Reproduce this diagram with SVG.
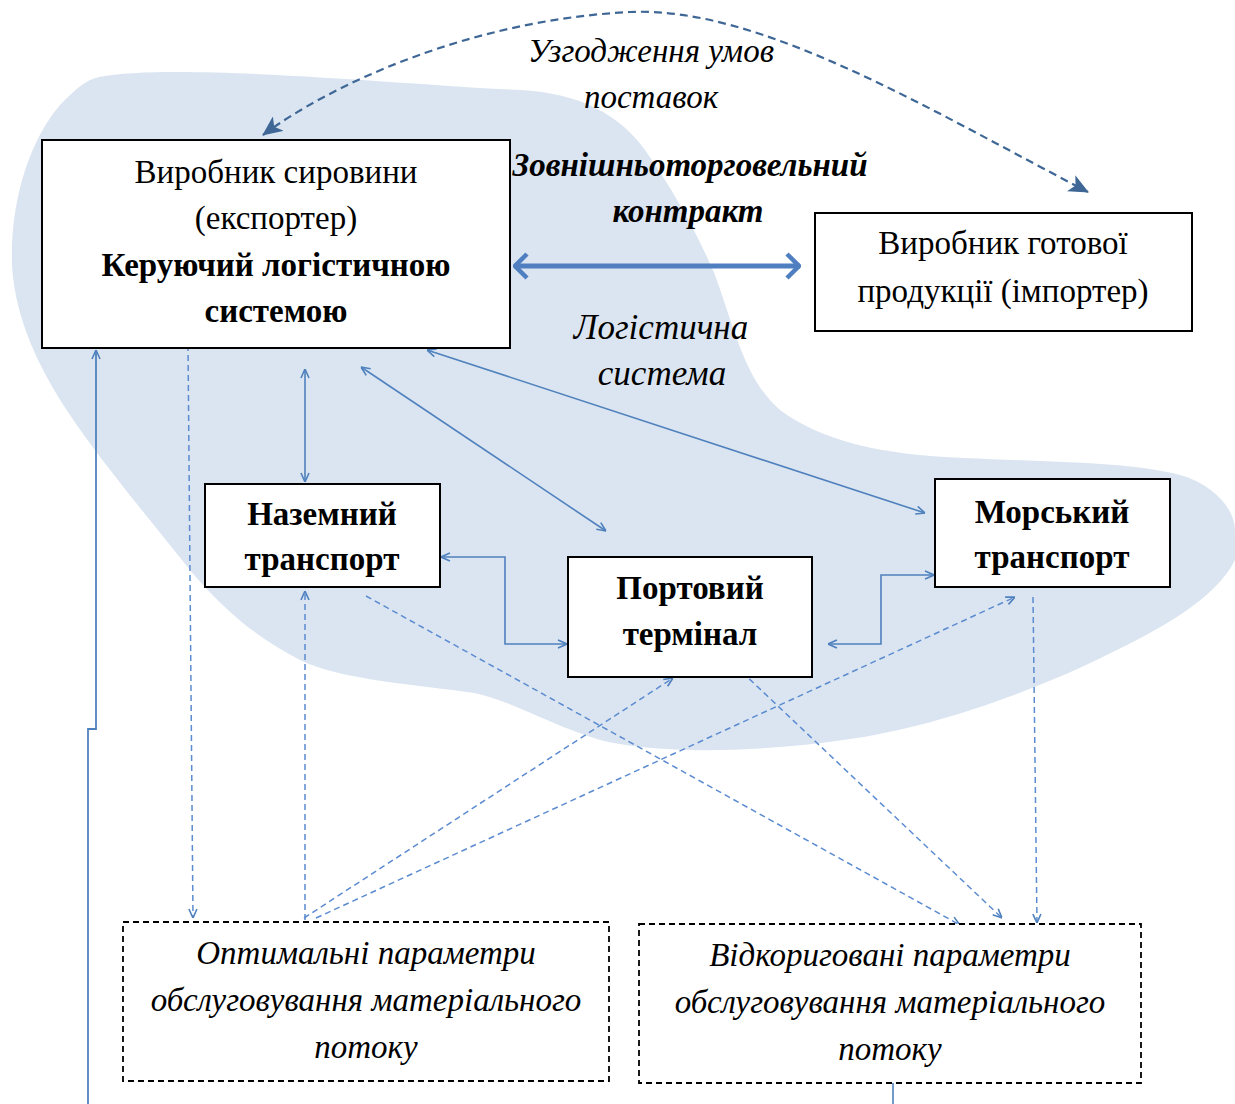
<svg xmlns="http://www.w3.org/2000/svg" width="1235" height="1104" viewBox="0 0 1235 1104">
  <style>
    .box { fill: #ffffff; stroke: #000000; stroke-width: 2; }
    .dbox { fill: #ffffff; stroke: #000000; stroke-width: 1.8; stroke-dasharray: 6 4; }
    .t { font-family: "Liberation Serif", "Times New Roman", serif; font-size: 33px; fill: #000; text-anchor: middle; }
    .b { font-weight: bold; }
    .i { font-style: italic; }
    .solid { fill: none; stroke: #4f81bd; stroke-width: 1.6; marker-start: url(#v); marker-end: url(#v); }
    .dash { fill: none; stroke: #5b8bd0; stroke-width: 1.5; stroke-dasharray: 6 4; marker-end: url(#v); }
  </style>
  <defs>
    <marker id="v" viewBox="0 0 10 10" refX="10" refY="5" markerWidth="10" markerHeight="10" markerUnits="userSpaceOnUse" orient="auto-start-reverse">
      <path d="M1,1 L10,5 L1,9" fill="none" stroke="#4f81bd" stroke-width="1.6"/>
    </marker>
    <marker id="big" viewBox="0 0 16 28" refX="15" refY="14" markerWidth="16" markerHeight="28" markerUnits="userSpaceOnUse" orient="auto-start-reverse">
      <path d="M2,2 L14,14 L2,26" fill="none" stroke="#4f7fc0" stroke-width="4.5" stroke-linejoin="miter"/>
    </marker>
    <marker id="stealth" viewBox="0 0 20 18" refX="19" refY="9" markerWidth="20" markerHeight="18" markerUnits="userSpaceOnUse" orient="auto-start-reverse">
      <path d="M0,0 L20,9 L0,18 L5,9 Z" fill="#3f6796"/>
    </marker>
  </defs>

  <!-- logistic system area -->
  <path id="area" fill="#dbe5f1" d="M 99 77 C 180 62, 420 86, 520 90 C 580 93, 620 115, 645 150 C 680 200, 700 240, 715 275 C 735 330, 745 380, 780 410 C 820 440, 880 455, 964 458 C 1050 462, 1130 462, 1180 475 C 1215 485, 1235 510, 1235 530 L 1235 560 C 1215 600, 1160 630, 1086 665 C 1010 700, 920 730, 843 740 C 760 752, 660 755, 600 740 C 550 725, 510 700, 474 693 C 420 685, 340 680, 300 660 C 250 635, 215 600, 190 570 C 150 520, 100 460, 70 415 C 40 370, 15 320, 12 265 C 10 200, 30 140, 60 105 C 75 90, 85 80, 99 77 Z"/>

  <!-- connectors -->
  <g id="connectors">
    <path d="M 263 135 C 330 85, 470 20, 630 12 C 760 6, 930 110, 1088 192" fill="none" stroke="#3f6796" stroke-width="2.2" stroke-dasharray="8 5" marker-start="url(#stealth)" marker-end="url(#stealth)"/>
    <line x1="514" y1="266" x2="800" y2="266" stroke="#4f7fc0" stroke-width="5" marker-start="url(#big)" marker-end="url(#big)"/>

    <line class="solid" x1="305" y1="369" x2="305" y2="482"/>
    <line class="solid" x1="361" y1="367" x2="606" y2="531"/>
    <line class="solid" x1="427" y1="350" x2="925" y2="513"/>
    <polyline class="solid" points="441,557 505,557 505,644 567,644"/>
    <polyline class="solid" points="828,644 881,644 881,575 934,575"/>
    <polyline fill="none" stroke="#4f81bd" stroke-width="1.8" marker-end="url(#v)" points="88,1104 88,729 96,729 96,350"/>
    <line x1="893" y1="1083" x2="893" y2="1104" stroke="#4f81bd" stroke-width="1.6"/>

    <line class="dash" x1="188" y1="345" x2="193" y2="918"/>
    <line class="dash" x1="305" y1="920" x2="305" y2="591"/>
    <line class="dash" x1="304" y1="918" x2="673" y2="678"/>
    <line class="dash" x1="316" y1="918" x2="1015" y2="597"/>
    <line class="dash" x1="366" y1="596" x2="960" y2="925"/>
    <line class="dash" x1="742" y1="672" x2="1002" y2="918"/>
    <line class="dash" x1="1033" y1="597" x2="1037" y2="923"/>
  </g>

  <!-- free labels -->
  <g id="labels">
    <text class="t i" x="651" y="62">Узгодження умов</text>
    <text class="t i" x="651" y="108">поставок</text>
    <text class="t b i" x="690" y="176">Зовнішньоторговельний</text>
    <text class="t b i" x="688" y="222">контракт</text>
    <text class="t i" x="661" y="339" style="font-size:35px">Логістична</text>
    <text class="t i" x="662" y="385" style="font-size:35px">система</text>
  </g>

  <g id="exporter">
    <rect class="box" x="42" y="140" width="468" height="208"/>
    <text class="t" x="276" y="183">Виробник сировини</text>
    <text class="t" x="276" y="229">(експортер)</text>
    <text class="t b" x="276" y="276">Керуючий логістичною</text>
    <text class="t b" x="276" y="322">системою</text>
  </g>

  <g id="importer">
    <rect class="box" x="815" y="213" width="377" height="118"/>
    <text class="t" x="1003" y="254">Виробник готової</text>
    <text class="t" x="1003" y="302">продукції (імпортер)</text>
  </g>

  <g id="land">
    <rect class="box" x="205" y="484" width="235" height="103"/>
    <text class="t b" x="322" y="525">Наземний</text>
    <text class="t b" x="322" y="570">транспорт</text>
  </g>

  <g id="port">
    <rect class="box" x="568" y="557" width="244" height="120"/>
    <text class="t b" x="690" y="599">Портовий</text>
    <text class="t b" x="690" y="645">термінал</text>
  </g>

  <g id="sea">
    <rect class="box" x="935" y="479" width="235" height="108"/>
    <text class="t b" x="1052" y="523">Морський</text>
    <text class="t b" x="1052" y="568">транспорт</text>
  </g>

  <g id="optimal">
    <rect class="dbox" x="123" y="922" width="486" height="159"/>
    <text class="t i" x="366" y="964">Оптимальні параметри</text>
    <text class="t i" x="366" y="1011">обслуговування матеріального</text>
    <text class="t i" x="366" y="1058">потоку</text>
  </g>

  <g id="corrected">
    <rect class="dbox" x="639" y="924" width="502" height="159"/>
    <text class="t i" x="890" y="966">Відкориговані параметри</text>
    <text class="t i" x="890" y="1013">обслуговування матеріального</text>
    <text class="t i" x="890" y="1060">потоку</text>
  </g>
</svg>
